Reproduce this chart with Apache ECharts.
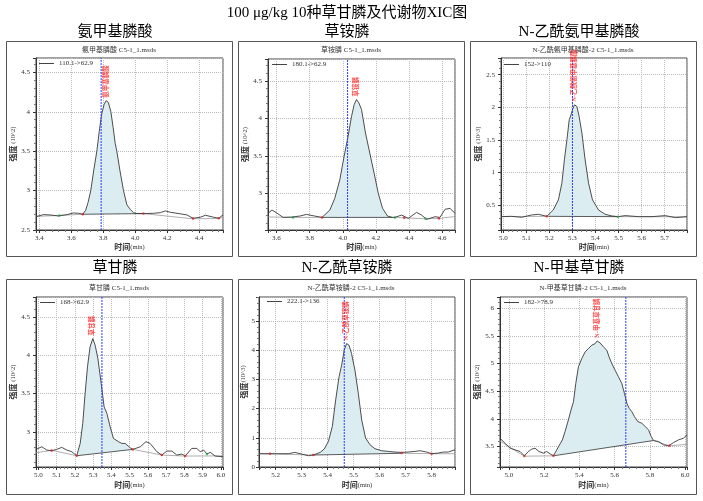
<!DOCTYPE html>
<html>
<head>
<meta charset="utf-8">
<title>100 μg/kg 10种草甘膦及代谢物XIC图</title>
<script src="https://cdn.jsdelivr.net/npm/echarts@6/dist/echarts.min.js"></script>
<style>
  html, body { margin: 0; padding: 0; background: #fff; }
  #chart { width: 703px; height: 501px; }
</style>
</head>
<body>
<div id="chart"></div>
<script>
// 标题文字
const mainTitle = '100 μg/kg 10种草甘膦及代谢物XIC图'
const compoundNames = ['氨甲基膦酸', '草铵膦', 'N-乙酰氨甲基膦酸', '草甘膦', 'N-乙酰草铵膦', 'N-甲基草甘膦']
const fileTitles = ['氨甲基膦酸 C5-1_1.msds', '草铵膦 C5-1_1.msds', 'N-乙酰氨甲基膦酸-2 C5-1_1.msds', '草甘膦 C5-1_1.msds', 'N-乙酰草铵膦-2 C5-1_1.msds', 'N-甲基草甘膦-2 C5-1_1.msds']
const transitions = ['110.1->62.9', '180.1->62.9', '152->110', '168->62.9', '222.1->136', '182->78.9']
const yNames = ['{b|强度}{s| (10^2)}', '{b|强度}{s| (10^2)}', '{b|强度}{s| (10^3)}', '{b|强度}{s| (10^2)}', '{b|强度}{s|(10^3)}', '{b|强度}{s| (10^2)}']
const xName = '{b|时间}{s|(min)}'

// 氨甲基膦酸 110.1->62.9
const p1Curve = [[3.379, 2.669], [3.425, 2.695], [3.467, 2.691], [3.519, 2.678], [3.572, 2.695], [3.613, 2.716], [3.645, 2.712], [3.672, 2.700], [3.690, 2.750], [3.705, 2.850], [3.722, 3.000], [3.740, 3.250], [3.760, 3.500], [3.775, 3.750], [3.790, 3.970], [3.805, 4.090], [3.818, 4.141], [3.832, 4.120], [3.848, 4.000], [3.862, 3.800], [3.875, 3.600], [3.885, 3.500], [3.905, 3.250], [3.927, 3.000], [3.948, 2.820], [3.970, 2.760], [3.990, 2.720], [4.010, 2.710], [4.052, 2.708], [4.115, 2.712], [4.157, 2.720], [4.189, 2.742], [4.220, 2.725], [4.262, 2.712], [4.325, 2.691], [4.362, 2.649], [4.408, 2.662], [4.440, 2.687], [4.492, 2.662], [4.523, 2.649], [4.550, 2.691]]
const p1BaseLeft = [[3.379, 2.672], [3.525, 2.685], [3.672, 2.700]]
const p1BaseRight = [[4.052, 2.708], [4.362, 2.642], [4.523, 2.646], [4.550, 2.660]]
const p1PeakBase = [[3.672, 2.700], [4.052, 2.708]]
const p1Red = [[3.672, 2.700], [4.052, 2.708], [4.362, 2.645], [4.523, 2.648]]
const p1Green = [[3.525, 2.685]]
const p1Rt = 3.787
const p1Apex = [3.818, 4.141]

// 草铵膦 180.1->62.9
const p2Curve = [[3.549, 2.732], [3.573, 2.776], [3.600, 2.740], [3.640, 2.678], [3.690, 2.682], [3.741, 2.696], [3.781, 2.718], [3.831, 2.696], [3.875, 2.678], [3.922, 2.776], [3.952, 2.933], [3.982, 3.178], [4.008, 3.491], [4.032, 3.759], [4.053, 4.027], [4.069, 4.184], [4.083, 4.250], [4.097, 4.206], [4.113, 4.117], [4.137, 3.804], [4.163, 3.536], [4.189, 3.268], [4.214, 3.000], [4.240, 2.799], [4.270, 2.696], [4.300, 2.678], [4.314, 2.678], [4.355, 2.709], [4.395, 2.665], [4.445, 2.745], [4.475, 2.709], [4.506, 2.652], [4.556, 2.687], [4.586, 2.678], [4.617, 2.786], [4.647, 2.799], [4.677, 2.732]]
const p2BaseLeft = [[3.549, 2.684], [3.700, 2.678], [3.875, 2.678]]
const p2BaseRight = [[4.300, 2.678], [4.370, 2.672], [4.500, 2.660], [4.580, 2.664], [4.677, 2.690]]
const p2PeakBase = [[3.875, 2.678], [4.300, 2.678]]
const p2Red = [[3.875, 2.678], [4.370, 2.672], [4.580, 2.664]]
const p2Green = [[3.700, 2.678], [4.314, 2.678], [4.500, 2.660]]
const p2Rt = 4.029
const p2Apex = [4.083, 4.250]

// N-乙酰氨甲基膦酸 152->110
const p3Curve = [[4.990, 0.320], [5.036, 0.325], [5.080, 0.310], [5.123, 0.346], [5.152, 0.356], [5.189, 0.325], [5.196, 0.325], [5.217, 0.423], [5.239, 0.577], [5.254, 0.833], [5.265, 1.192], [5.276, 1.500], [5.286, 1.808], [5.294, 1.885], [5.300, 1.962], [5.309, 2.038], [5.319, 2.013], [5.329, 1.859], [5.341, 1.603], [5.355, 1.192], [5.370, 0.833], [5.387, 0.577], [5.413, 0.423], [5.442, 0.356], [5.471, 0.331], [5.497, 0.320], [5.529, 0.336], [5.587, 0.320], [5.645, 0.320], [5.703, 0.336], [5.747, 0.305], [5.797, 0.320]]
const p3BaseLeft = [[4.990, 0.322], [5.196, 0.325]]
const p3BaseRight = [[5.497, 0.320], [5.797, 0.318]]
const p3PeakBase = [[5.196, 0.325], [5.497, 0.320]]
const p3Red = [[5.189, 0.325]]
const p3Green = [[5.497, 0.320]]
const p3Rt = 5.300
const p3Apex = [5.309, 2.038]

// 草甘膦 168->62.9
const p4Curve = [[4.987, 2.770], [5.019, 2.804], [5.046, 2.761], [5.073, 2.752], [5.100, 2.770], [5.128, 2.796], [5.156, 2.761], [5.183, 2.739], [5.210, 2.687], [5.229, 2.848], [5.243, 3.109], [5.256, 3.500], [5.269, 3.848], [5.283, 4.108], [5.298, 4.217], [5.311, 4.130], [5.326, 3.953], [5.344, 3.631], [5.360, 3.326], [5.375, 3.240], [5.393, 3.065], [5.411, 2.913], [5.439, 2.870], [5.457, 2.848], [5.475, 2.848], [5.503, 2.791], [5.517, 2.770], [5.558, 2.804], [5.589, 2.870], [5.612, 2.848], [5.649, 2.739], [5.676, 2.696], [5.703, 2.748], [5.731, 2.748], [5.758, 2.696], [5.786, 2.709], [5.804, 2.683], [5.840, 2.783], [5.868, 2.783], [5.886, 2.739], [5.905, 2.761], [5.923, 2.709], [5.941, 2.731], [5.968, 2.683], [6.011, 2.674]]
const p4BaseLeft = [[4.987, 2.726], [5.073, 2.758], [5.210, 2.687]]
const p4BaseRight = [[5.517, 2.770], [5.676, 2.696], [5.804, 2.683], [6.011, 2.685]]
const p4PeakBase = [[5.210, 2.687], [5.517, 2.770]]
const p4Red = [[5.073, 2.755], [5.210, 2.687], [5.517, 2.770], [5.676, 2.696], [5.804, 2.683]]
const p4Green = [[5.923, 2.709]]
const p4Rt = 5.348
const p4Apex = [5.298, 4.217]

// N-乙酰草铵膦 222.1->136
const p5Curve = [[5.136, 0.455], [5.172, 0.455], [5.210, 0.455], [5.249, 0.455], [5.274, 0.500], [5.300, 0.443], [5.326, 0.386], [5.345, 0.410], [5.371, 0.500], [5.387, 0.614], [5.403, 0.875], [5.418, 1.386], [5.431, 2.295], [5.444, 3.090], [5.454, 3.489], [5.464, 4.000], [5.473, 4.227], [5.482, 4.170], [5.492, 3.886], [5.505, 3.318], [5.518, 2.523], [5.531, 1.614], [5.546, 0.989], [5.563, 0.761], [5.582, 0.625], [5.608, 0.557], [5.633, 0.534], [5.659, 0.511], [5.685, 0.500], [5.710, 0.511], [5.736, 0.534], [5.755, 0.557], [5.781, 0.511], [5.800, 0.455], [5.826, 0.477], [5.845, 0.511], [5.864, 0.511], [5.890, 0.590]]
const p5BaseLeft = [[5.136, 0.452], [5.178, 0.450], [5.345, 0.410]]
const p5BaseRight = [[5.685, 0.470], [5.800, 0.455], [5.890, 0.455]]
const p5PeakBase = [[5.345, 0.410], [5.685, 0.470]]
const p5Red = [[5.178, 0.452], [5.345, 0.410], [5.685, 0.480], [5.800, 0.455]]
const p5Green = []
const p5Rt = 5.464
const p5Apex = [5.473, 4.227]

// N-甲基草甘膦 182->78.9
const p6Curve = [[4.949, 3.650], [4.973, 3.572], [5.006, 3.470], [5.034, 3.440], [5.063, 3.410], [5.087, 3.332], [5.110, 3.410], [5.129, 3.452], [5.148, 3.470], [5.170, 3.410], [5.195, 3.380], [5.214, 3.410], [5.233, 3.368], [5.252, 3.332], [5.271, 3.440], [5.290, 3.548], [5.303, 3.620], [5.318, 3.770], [5.337, 3.980], [5.352, 4.160], [5.366, 4.309], [5.379, 4.639], [5.394, 4.939], [5.413, 5.089], [5.432, 5.209], [5.451, 5.269], [5.470, 5.329], [5.489, 5.359], [5.500, 5.406], [5.517, 5.370], [5.536, 5.299], [5.555, 5.239], [5.568, 5.119], [5.583, 4.999], [5.602, 4.879], [5.621, 4.759], [5.640, 4.639], [5.655, 4.459], [5.669, 4.279], [5.682, 4.189], [5.697, 4.129], [5.712, 4.040], [5.731, 3.950], [5.754, 3.920], [5.773, 3.860], [5.792, 3.800], [5.807, 3.680], [5.820, 3.608], [5.848, 3.590], [5.877, 3.530], [5.905, 3.512], [5.934, 3.572], [5.962, 3.620], [5.990, 3.650], [6.010, 3.710]]
const p6BaseLeft = [[4.949, 3.600], [5.087, 3.325], [5.252, 3.332]]
const p6BaseRight = [[5.820, 3.608], [5.910, 3.512], [6.010, 3.540]]
const p6PeakBase = [[5.252, 3.332], [5.820, 3.608]]
const p6Red = [[5.087, 3.330], [5.252, 3.332], [5.910, 3.512]]
const p6Green = []
const p6Rt = 5.663
const p6Apex = [5.500, 5.406]

const panelData = [
  { curve: p1Curve, baseL: p1BaseLeft, baseR: p1BaseRight, peakBase: p1PeakBase, red: p1Red, green: p1Green, rt: p1Rt, apex: p1Apex },
  { curve: p2Curve, baseL: p2BaseLeft, baseR: p2BaseRight, peakBase: p2PeakBase, red: p2Red, green: p2Green, rt: p2Rt, apex: p2Apex },
  { curve: p3Curve, baseL: p3BaseLeft, baseR: p3BaseRight, peakBase: p3PeakBase, red: p3Red, green: p3Green, rt: p3Rt, apex: p3Apex },
  { curve: p4Curve, baseL: p4BaseLeft, baseR: p4BaseRight, peakBase: p4PeakBase, red: p4Red, green: p4Green, rt: p4Rt, apex: p4Apex },
  { curve: p5Curve, baseL: p5BaseLeft, baseR: p5BaseRight, peakBase: p5PeakBase, red: p5Red, green: p5Green, rt: p5Rt, apex: p5Apex },
  { curve: p6Curve, baseL: p6BaseLeft, baseR: p6BaseRight, peakBase: p6PeakBase, red: p6Red, green: p6Green, rt: p6Rt, apex: p6Apex }
]

// 版面: 外框 / 绘图区 / 坐标范围
const layout = [
  { box: [6, 41, 226, 215], grid: [36, 58, 187, 172], x: [3.379, 4.55, 5], y: [2.5, 4.683, 5], yStep: 0.5, xGap: 13, yGap: 17, yMargin: 6, legend: [39, 60], title: [115, 32], sub: [119, 50] },
  { box: [238, 41, 226, 215], grid: [268, 59, 187, 171], x: [3.549, 4.677, 5], y: [2.51, 4.79, 5], yStep: 0.5, xGap: 13, yGap: 18, yMargin: 6, legend: [272, 61], title: [347, 32], sub: [351, 50] },
  { box: [470, 41, 226, 215], grid: [501, 58, 186, 172], x: [4.99, 5.797, 8], y: [0.115, 2.757, 5], yStep: 0.5, xGap: 13, yGap: 19, yMargin: 6, legend: [504, 61], title: [579, 32], sub: [583, 50] },
  { box: [6, 279, 226, 215], grid: [36, 297, 187, 170], x: [4.987, 6.011, 10], y: [2.54, 4.76, 5], yStep: 0.5, xGap: 14, yGap: 17, yMargin: 6, legend: [40, 299], title: [115, 268], sub: [119, 288] },
  { box: [238, 279, 226, 215], grid: [259, 297, 196, 170], x: [5.136, 5.89, 7], y: [0, 5.82, 5], yStep: 1, xGap: 14, yGap: 7, yMargin: 4, legend: [267, 298], title: [347, 268], sub: [351, 288] },
  { box: [470, 279, 226, 215], grid: [500, 297, 187, 170], x: [4.949, 6.01, 5], y: [3.13, 6.2, 5], yStep: 0.5, xGap: 14, yGap: 18, yMargin: 6, legend: [504, 299], title: [579, 268], sub: [583, 288] }
]

const serif = "'Liberation Serif', 'Noto Sans CJK SC', serif"
const nameRich = {
  b: { fontSize: 8, fontFamily: "'Noto Sans CJK SC'", fontWeight: 'bold', color: '#333' },
  s: { fontSize: 6.5, fontFamily: serif, color: '#333' }
}

// 只显示整刻度
function stepLabel (step, digits) {
  return function (v) {
    const k = v / step
    if (Math.abs(k - Math.round(k)) > 1e-6) return ''
    return digits != null ? v.toFixed(digits) : String(+v.toFixed(3))
  }
}

const grids = []
const xAxes = []
const yAxes = []
const legends = []
const series = []
const graphics = []

graphics.push({
  type: 'text', x: 347, y: 13, silent: true,
  style: { text: mainTitle, font: '15px ' + serif, fill: '#000', textAlign: 'center', textVerticalAlign: 'middle' }
})

panelData.forEach((d, i) => {
  const L = layout[i]
  graphics.push({
    type: 'rect', silent: true,
    shape: { x: L.box[0] + 0.5, y: L.box[1] + 0.5, width: L.box[2], height: L.box[3] },
    style: { fill: 'none', stroke: '#555', lineWidth: 1 }
  })
  graphics.push({
    type: 'text', x: L.title[0], y: L.title[1], silent: true,
    style: { text: compoundNames[i], font: '15px ' + serif, fill: '#000', textAlign: 'center', textVerticalAlign: 'middle' }
  })
  graphics.push({
    type: 'text', x: L.sub[0], y: L.sub[1], silent: true,
    style: { text: fileTitles[i], font: '7px ' + serif, fill: '#333', textAlign: 'center', textVerticalAlign: 'middle' }
  })

  grids.push({
    left: L.grid[0], top: L.grid[1], width: L.grid[2], height: L.grid[3],
    show: true, borderColor: '#444', borderWidth: 1, backgroundColor: '#fff'
  })

  xAxes.push({
    gridIndex: i, type: 'value', min: L.x[0], max: L.x[1], splitNumber: L.x[2],
    axisLine: { show: true, onZero: false, lineStyle: { color: '#333' } },
    axisTick: { show: true, length: 3, lineStyle: { color: '#333' } },
    minorTick: { show: true, splitNumber: 5, length: 2, lineStyle: { color: '#777' } },
    splitLine: { show: true, lineStyle: { color: '#bbb', type: 'dotted' } },
    axisLabel: { interval: 0, margin: 5, fontSize: 7, fontFamily: serif, color: '#333', formatter: stepLabel(0.1, 1) },
    name: xName, nameLocation: 'middle', nameGap: L.xGap,
    nameTextStyle: { rich: nameRich }
  })

  yAxes.push({
    gridIndex: i, type: 'value', min: L.y[0], max: L.y[1], splitNumber: L.y[2],
    axisLine: { show: true, onZero: false, lineStyle: { color: '#333' } },
    axisTick: { show: true, length: 3, lineStyle: { color: '#333' } },
    minorTick: { show: true, splitNumber: 5, length: 2, lineStyle: { color: '#777' } },
    splitLine: { show: true, lineStyle: { color: '#bbb', type: 'dotted' } },
    axisLabel: { interval: 0, margin: L.yMargin, fontSize: 7, fontFamily: serif, color: '#333', formatter: stepLabel(L.yStep) },
    name: yNames[i], nameLocation: 'middle', nameGap: L.yGap, nameRotate: 90,
    nameTextStyle: { rich: nameRich }
  })

  legends.push({
    data: [transitions[i]], left: L.legend[0], top: L.legend[1], padding: 0,
    icon: 'rect', itemWidth: 15, itemHeight: 1, selectedMode: false,
    itemStyle: { color: '#444' },
    textStyle: { fontSize: 7, fontFamily: serif, color: '#333' }
  })

  // 峰面积填充: 曲线 + 峰基线
  const x0 = d.peakBase[0][0]
  const x1 = d.peakBase[1][0]
  const fillPts = d.curve.filter(p => p[0] >= x0 && p[0] <= x1).concat([d.peakBase[1], d.peakBase[0]])
  series.push({
    type: 'custom', xAxisIndex: i, yAxisIndex: i, silent: true, z: 1,
    data: [d.peakBase[0]],
    renderItem: function (params, api) {
      return {
        type: 'polygon',
        shape: { points: fillPts.map(p => api.coord(p)) },
        style: { fill: '#dbedf1', stroke: 'none' }
      }
    }
  })

  const thinLine = (data, color) => ({
    type: 'line', xAxisIndex: i, yAxisIndex: i, data: data, silent: true, z: 2,
    symbol: 'none', lineStyle: { color: color, width: 0.8 }
  })
  series.push(thinLine(d.baseL, '#9a9a9a'))
  series.push(thinLine(d.baseR, '#9a9a9a'))
  series.push(thinLine(d.peakBase, '#333'))

  // 保留时间竖线
  series.push({
    type: 'line', xAxisIndex: i, yAxisIndex: i, silent: true, z: 4,
    data: [[d.rt, L.y[0]], [d.rt, L.y[1]]],
    symbol: 'none', itemStyle: { color: '#2b3cff' },
    lineStyle: { color: '#2b3cff', type: [2, 1], width: 1 }
  })

  series.push({
    name: transitions[i], type: 'line', xAxisIndex: i, yAxisIndex: i, data: d.curve,
    symbol: 'none', silent: true, z: 3, itemStyle: { color: '#444' },
    lineStyle: { color: '#3a3a3a', width: 0.9 }
  })

  series.push({
    type: 'scatter', xAxisIndex: i, yAxisIndex: i, data: d.red, silent: true, z: 4,
    symbol: 'circle', symbolSize: 2.5, itemStyle: { color: '#e02020' }
  })
  series.push({
    type: 'scatter', xAxisIndex: i, yAxisIndex: i, data: d.green, silent: true, z: 4,
    symbol: 'circle', symbolSize: 2.5, itemStyle: { color: '#20a040' }
  })

  // 峰顶竖排红色标注
  series.push({
    type: 'scatter', xAxisIndex: i, yAxisIndex: i, data: [d.apex], silent: true, z: 5,
    symbolSize: 0,
    label: {
      show: true, position: 'top', distance: 3, rotate: 90, align: 'left', verticalAlign: 'middle',
      formatter: compoundNames[i], color: '#ff2020', fontSize: 6.5, fontWeight: 'bold', fontFamily: serif
    }
  })
})

const chart = echarts.init(document.getElementById('chart'))
chart.setOption({
  animation: false,
  backgroundColor: '#fff',
  graphic: graphics,
  grid: grids,
  xAxis: xAxes,
  yAxis: yAxes,
  legend: legends,
  series: series
})
</script>
</body>
</html>
